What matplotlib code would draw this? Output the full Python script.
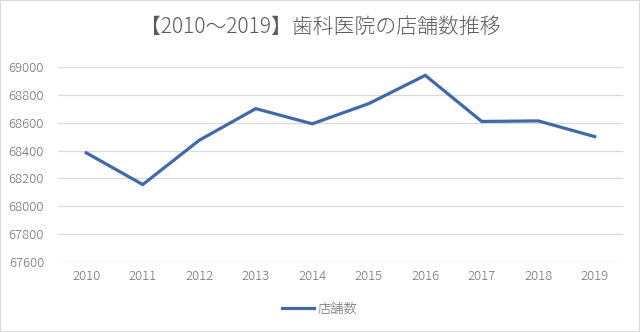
import matplotlib
matplotlib.use("Agg")
import matplotlib.pyplot as plt
from matplotlib.patches import Rectangle

plt.rcParams['font.family'] = ['Noto Sans CJK JP', 'DejaVu Sans']

years = ['2010', '2011', '2012', '2013', '2014', '2015', '2016', '2017', '2018', '2019']
counts = [68384, 68156, 68474, 68701, 68592, 68737, 68940, 68609, 68613, 68500]
yticks = [67600, 67800, 68000, 68200, 68400, 68600, 68800, 69000]
title = '【2010～2019】歯科医院の店舗数推移'
series_name = '店舗数'

fig = plt.figure(figsize=(6.4, 3.32), dpi=100)
ax = fig.add_axes([58/640, 1-262/332, (623-58)/640, (262-67)/332])

x = list(range(len(years)))
line, = ax.plot(x, counts, color='#4169AA', linewidth=2.3, solid_joinstyle='miter', label=series_name)
ax.set_xlim(-0.5, len(years)-0.5)
ax.set_ylim(yticks[0], yticks[-1])
ax.set_yticks(yticks)
ax.set_xticks(x)
ax.set_xticklabels(years)
ax.grid(axis='y', color='#d9d9d9', linewidth=0.9)
ax.set_axisbelow(True)
for s in ax.spines.values():
    s.set_visible(False)
ax.tick_params(length=0, colors='#6f6f6f', labelsize=9.5)
for lab in ax.get_xticklabels() + ax.get_yticklabels():
    lab.set_fontweight('light')
ax.tick_params(axis='y', pad=10)
ax.tick_params(axis='x', pad=6)

fig.text(0.5, 1-27/332, title, ha='center', va='center', fontsize=15, color='#595959',
         fontweight='light')

leg = fig.legend(handles=[line], loc='center', bbox_to_anchor=(0.5, 1-309/332), frameon=False,
                 fontsize=9.5, handlelength=2.4, handletextpad=0.3)
for t in leg.get_texts():
    t.set_color('#6f6f6f')
    t.set_fontweight('light')

fig.patches.append(Rectangle((0, 0), 1, 1, transform=fig.transFigure, fill=False,
                             edgecolor='#d9d9d9', linewidth=1.5))

fig.savefig('out.png', dpi=100)
